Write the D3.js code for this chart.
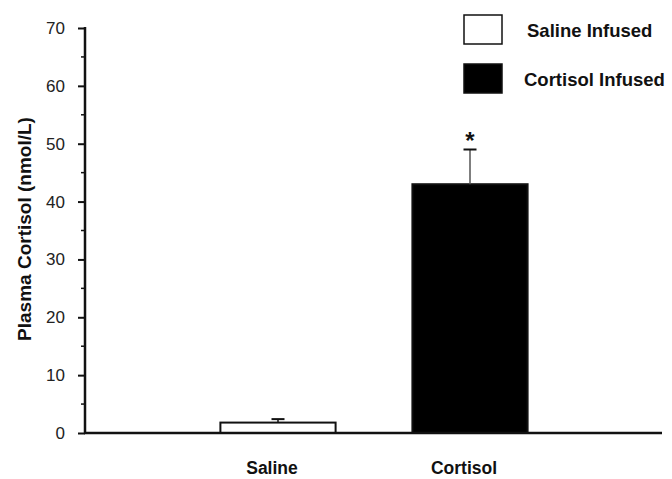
<!DOCTYPE html>
<html>
<head>
<meta charset="utf-8">
<script src="https://cdn.jsdelivr.net/npm/d3@7"></script>
<style>
  body { margin: 0; background: #fff; }
  text { font-family: "Liberation Sans", Arial, sans-serif; fill: #111; }
</style>
</head>
<body>
<script>
// data
const groups = ["Saline", "Cortisol"];
const means = [1.8, 43];
const errors = [0.6, 6];
const significant = [false, true];
const legendLabels = ["Saline Infused", "Cortisol Infused"];
const fills = ["#fff", "#000"];
const yTicks = [0, 10, 20, 30, 40, 50, 60, 70];

const width = 672, height = 479;
const axisX = 85, axisY = 433, xEnd = 662;

const svg = d3.select("body").append("svg")
  .attr("width", width)
  .attr("height", height);

const y = d3.scaleLinear().domain([0, 70]).range([axisY, 28]);
const x = d3.scaleBand().domain(groups).range([182, 566])
  .paddingInner(0.4).paddingOuter(0.2);

// y axis
const yAxis = svg.append("g")
  .attr("transform", "translate(" + axisX + ",0)")
  .call(d3.axisLeft(y).tickValues(yTicks).tickSize(7).tickPadding(13).tickFormat(d3.format("d")));
yAxis.select(".domain").remove();
yAxis.selectAll("line").attr("stroke", "#111").attr("stroke-width", 2);
yAxis.selectAll("text").style("font-size", "17px").style("fill", "#222");

// minor ticks
svg.append("g").selectAll("line")
  .data(d3.range(5, 70, 10))
  .join("line")
  .attr("x1", axisX - 4).attr("x2", axisX)
  .attr("y1", d => y(d)).attr("y2", d => y(d))
  .attr("stroke", "#111").attr("stroke-width", 1.5);

// axis lines
svg.append("line")
  .attr("x1", axisX).attr("x2", axisX)
  .attr("y1", y(70) - 1).attr("y2", axisY + 1)
  .attr("stroke", "#111").attr("stroke-width", 2.5);

// bars
svg.append("g").selectAll("rect")
  .data(groups)
  .join("rect")
  .attr("x", d => x(d))
  .attr("width", x.bandwidth())
  .attr("y", (d, i) => y(means[i]))
  .attr("height", (d, i) => y(0) - y(means[i]))
  .attr("fill", (d, i) => fills[i])
  .attr("stroke", "#111")
  .attr("stroke-width", 2);

// error bars (upper only)
const idx = d => groups.indexOf(d);
const eb = svg.append("g").selectAll("g")
  .data(groups)
  .join("g")
  .attr("transform", d => "translate(" + (x(d) + x.bandwidth() / 2) + ",0)");
eb.append("line")
  .attr("x1", 0).attr("x2", 0)
  .attr("y1", d => y(means[idx(d)]))
  .attr("y2", d => y(means[idx(d)] + errors[idx(d)]))
  .attr("stroke", d => idx(d) === 1 ? "#555" : "#111")
  .attr("stroke-width", 1.5);
eb.append("line")
  .attr("x1", -6.5).attr("x2", 6.5)
  .attr("y1", d => y(means[idx(d)] + errors[idx(d)]))
  .attr("y2", d => y(means[idx(d)] + errors[idx(d)]))
  .attr("stroke", "#111")
  .attr("stroke-width", 2);
eb.filter(d => significant[idx(d)])
  .append("text")
  .attr("y", d => y(means[idx(d)] + errors[idx(d)]) - 1)
  .attr("text-anchor", "middle")
  .attr("font-size", 24)
  .attr("font-weight", "bold")
  .text("*");

// x axis line drawn over bar bottoms
svg.append("line")
  .attr("x1", axisX - 1).attr("x2", xEnd)
  .attr("y1", axisY).attr("y2", axisY)
  .attr("stroke", "#111").attr("stroke-width", 2.5);

// category labels
svg.append("g").selectAll("text")
  .data(groups)
  .join("text")
  .attr("x", d => x(d) + x.bandwidth() / 2 - 6)
  .attr("y", 474)
  .attr("text-anchor", "middle")
  .attr("font-size", 17.5)
  .attr("font-weight", "bold")
  .text(d => d);

// y axis title
svg.append("text")
  .attr("transform", "translate(31,229) rotate(-90)")
  .attr("text-anchor", "middle")
  .attr("font-size", 19)
  .attr("font-weight", "bold")
  .text("Plasma Cortisol (nmol/L)");

// legend
const lg = svg.append("g").selectAll("g")
  .data(legendLabels)
  .join("g")
  .attr("transform", (d, i) => "translate(464," + (15 + i * 49) + ")");
lg.append("rect")
  .attr("width", 38).attr("height", 29)
  .attr("fill", (d, i) => fills[i])
  .attr("stroke", "#111").attr("stroke-width", 1.5);
lg.append("text")
  .attr("x", (d, i) => i === 0 ? 63 : 60)
  .attr("y", 22)
  .attr("font-size", 18.5)
  .attr("font-weight", "bold")
  .text(d => d);
</script>
</body>
</html>
